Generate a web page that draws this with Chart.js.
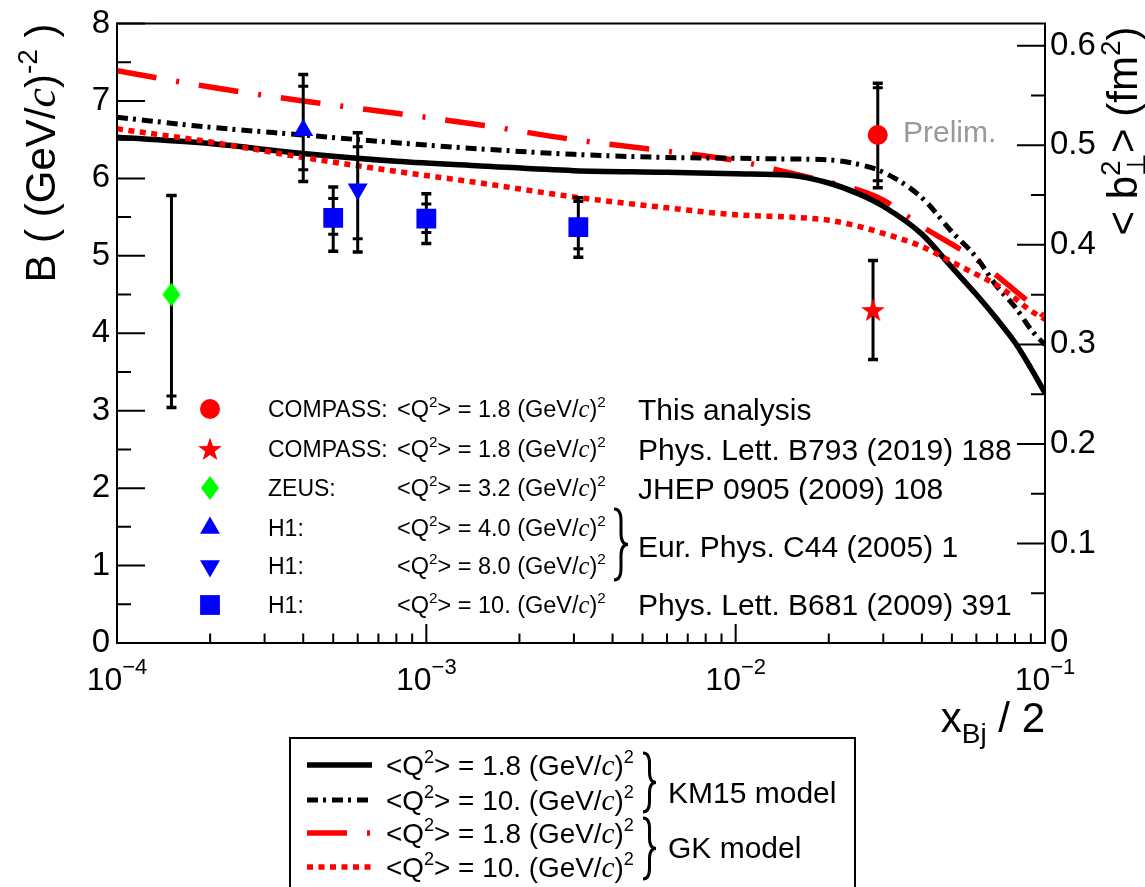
<!DOCTYPE html>
<html>
<head>
<meta charset="utf-8">
<script src="https://cdn.jsdelivr.net/npm/chart.js@4.4.1/dist/chart.umd.min.js"></script>
<style>
  body { margin: 0; background: #fff; }
  #wrap { width: 1145px; height: 887px; }
</style>
</head>
<body>
<div id="wrap"><canvas id="bChart"></canvas></div>
<script>
// model curves: B in (GeV/c)^-2 versus xBj/2
const curveX = [1e-4, 2e-4, 4e-4, 8e-4, 1.5e-3, 3e-3, 6e-3, 1e-2, 1.5e-2, 2e-2, 2.5e-2, 3e-2, 4e-2, 5e-2, 6e-2, 7e-2, 8e-2, 9e-2, 1e-1];
const km15Q18 = [6.53, 6.45, 6.32, 6.22, 6.16, 6.10, 6.08, 6.06, 6.04, 5.94, 5.80, 5.64, 5.28, 4.85, 4.50, 4.18, 3.88, 3.55, 3.23];
const km15Q10 = [6.79, 6.66, 6.56, 6.46, 6.38, 6.31, 6.27, 6.26, 6.25, 6.24, 6.18, 6.08, 5.75, 5.31, 4.98, 4.60, 4.34, 4.05, 3.85];
const gkQ18 = [7.39, 7.18, 7.00, 6.84, 6.69, 6.50, 6.35, 6.23, 6.07, 5.95, 5.85, 5.72, 5.38, 5.15, 4.95, 4.74, 4.55, 4.38, 4.20];
const gkQ10 = [6.64, 6.47, 6.27, 6.09, 5.94, 5.76, 5.62, 5.53, 5.50, 5.46, 5.38, 5.29, 5.12, 4.92, 4.76, 4.62, 4.45, 4.29, 4.18];

// measurements
const compassX = [0.0288], compassB = [6.56], compassStatLo = [5.97], compassStatHi = [7.17], compassTotLo = [5.88], compassTotHi = [7.23];
const plbX = [0.0278], plbB = [4.30], plbTotLo = [3.66], plbTotHi = [4.94];
const zeusX = [1.5e-4], zeusB = [4.50], zeusStatLo = [3.19], zeusStatHi = [5.78], zeusTotLo = [3.04], zeusTotHi = [5.78];
const h1aX = [4e-4], h1aB = [6.62], h1aStatLo = [6.11], h1aStatHi = [7.19], h1aTotLo = [5.96], h1aTotHi = [7.34];
const h1bX = [6e-4], h1bB = [5.86], h1bStatLo = [5.22], h1bStatHi = [6.41], h1bTotLo = [5.05], h1bTotHi = [6.59];
const h1cX = [5e-4, 1e-3, 3.1e-3], h1cB = [5.49, 5.48, 5.37];
const h1cStatLo = [5.28, 5.30, 5.09], h1cStatHi = [5.74, 5.67, 5.70];
const h1cTotLo = [5.06, 5.16, 4.98], h1cTotHi = [5.89, 5.80, 5.75];

// ticks
const yTicks = [0, 1, 2, 3, 4, 5, 6, 7, 8];
const y2Ticks = [0, 0.1, 0.2, 0.3, 0.4, 0.5, 0.6];
const xDecades = [1e-4, 1e-3, 1e-2, 1e-1];
const xDecadeExp = ['\u22124', '\u22123', '\u22122', '\u22121'];
const bToFm2 = 0.0778; // <b^2> = 2 B (hbar c)^2

const SANS = "'Liberation Sans', Arial, sans-serif";
const SERIF = "'Liberation Serif', 'Times New Roman', serif";

function shapeCanvas(w, h, color, draw) {
  const c = document.createElement('canvas');
  c.width = w; c.height = h;
  const g = c.getContext('2d');
  g.fillStyle = color;
  g.beginPath();
  draw(g, w, h);
  g.closePath();
  g.fill();
  return c;
}
const starImg = shapeCanvas(26, 26, '#ff0000', (g, w, h) => {
  for (let i = 0; i < 10; i++) {
    const r = i % 2 ? 5 : 12.5;
    const a = -Math.PI / 2 + i * Math.PI / 5;
    g.lineTo(w / 2 + r * Math.cos(a), h / 2 + 1 + r * Math.sin(a));
  }
});
const diamondImg = shapeCanvas(18, 24, '#00ff00', (g, w, h) => {
  g.moveTo(w / 2, 0); g.lineTo(w, h / 2); g.lineTo(w / 2, h); g.lineTo(0, h / 2);
});

function pts(xs, ys) { return xs.map((v, i) => ({ x: v, y: ys[i] })); }

const datasets = [];
function addSeries(xs, ys, style, color, radius, rotation, statLo, statHi, totLo, totHi) {
  datasets.push({
    type: 'scatter', data: pts(xs, ys), pointStyle: style, pointRadius: radius,
    pointRotation: rotation, backgroundColor: color, borderColor: color, pointBorderWidth: 0, order: 0
  });
  xs.forEach((xv, i) => {
    datasets.push({
      type: 'line', data: [{ x: xv, y: totLo[i] }, { x: xv, y: totHi[i] }],
      borderColor: '#000', borderWidth: 3, pointStyle: 'line', pointRadius: 5,
      pointBorderWidth: 3.5, pointBorderColor: '#000', order: 2
    });
    if (statLo) {
      datasets.push({
        type: 'scatter', data: [{ x: xv, y: statLo[i] }, { x: xv, y: statHi[i] }],
        pointStyle: 'line', pointRadius: 5, pointBorderWidth: 3, pointBorderColor: '#000', order: 1
      });
    }
  });
}

function addCurve(ys, color, width, dash) {
  datasets.push({
    type: 'line', data: pts(curveX, ys), borderColor: color, borderWidth: width, borderDash: dash,
    pointRadius: 0, cubicInterpolationMode: 'monotone', borderCapStyle: 'butt', order: 3
  });
}

const dashKM10 = [11, 5, 3, 6];
const dashGK18 = [40, 20, 3, 20];
const dashGK10 = [6, 5.5];

addCurve(gkQ10, '#ff0000', 5.5, dashGK10);
addCurve(km15Q18, '#000000', 5.5, []);
addCurve(km15Q10, '#000000', 5, dashKM10);
addCurve(gkQ18, '#ff0000', 5.5, dashGK18);

addSeries(compassX, compassB, 'circle', '#ff0000', 10, 0, compassStatLo, compassStatHi, compassTotLo, compassTotHi);
addSeries(plbX, plbB, starImg, '#ff0000', 12, 0, null, null, plbTotLo, plbTotHi);
addSeries(zeusX, zeusB, diamondImg, '#00ff00', 12, 0, zeusStatLo, zeusStatHi, zeusTotLo, zeusTotHi);
addSeries(h1aX, h1aB, 'triangle', '#0000ff', 11.5, 0, h1aStatLo, h1aStatHi, h1aTotLo, h1aTotHi);
addSeries(h1bX, h1bB, 'triangle', '#0000ff', 11.5, 180, h1bStatLo, h1bStatHi, h1bTotLo, h1bTotHi);
addSeries(h1cX, h1cB, 'rect', '#0000ff', 14, 0, h1cStatLo, h1cStatHi, h1cTotLo, h1cTotHi);

// rich text: parts {t, s, dy, it, fam, same}
function drawRich(ctx, x, y, parts, align) {
  let w = 0;
  parts.forEach(p => {
    ctx.font = (p.it ? 'italic ' : '') + p.s + 'px ' + (p.fam || SANS);
    p.w = ctx.measureText(p.t).width;
  });
  const adv = [];
  parts.forEach((p, i) => {
    if (p.same) { const extra = Math.max(0, p.w - parts[i - 1].w); adv.push(extra); w += extra; }
    else { adv.push(p.w); w += p.w; }
  });
  let cx = align === 'right' ? x - w : align === 'center' ? x - w / 2 : x;
  ctx.textAlign = 'left';
  ctx.textBaseline = 'alphabetic';
  parts.forEach((p, i) => {
    ctx.font = (p.it ? 'italic ' : '') + p.s + 'px ' + (p.fam || SANS);
    const px = p.same ? cx - parts[i - 1].w : cx;
    ctx.fillText(p.t, px, y + (p.dy || 0));
    cx += adv[i];
  });
}

function qParts(val, s) {
  return [
    { t: '<Q', s: s },
    { t: '2', s: s * 0.65, dy: -s * 0.42 },
    { t: '> = ' + val + ' (GeV/', s: s },
    { t: 'c', s: s * 1.05, it: true, fam: SERIF },
    { t: ')', s: s },
    { t: '2', s: s * 0.65, dy: -s * 0.42 }
  ];
}

function brace(ctx, x, y0, y1, w) {
  const m = (y0 + y1) / 2, h = w * 0.8;
  ctx.beginPath();
  ctx.moveTo(x, y0);
  ctx.quadraticCurveTo(x + w / 2, y0, x + w / 2, y0 + h);
  ctx.lineTo(x + w / 2, m - h);
  ctx.quadraticCurveTo(x + w / 2, m, x + w, m);
  ctx.quadraticCurveTo(x + w / 2, m, x + w / 2, m + h);
  ctx.lineTo(x + w / 2, y1 - h);
  ctx.quadraticCurveTo(x + w / 2, y1, x, y1);
  ctx.stroke();
}

const overlay = {
  id: 'overlay',
  afterDraw(chart) {
    const { ctx, chartArea: a, scales: { x, y, y2 } } = chart;
    ctx.save();
    ctx.strokeStyle = '#000';
    ctx.fillStyle = '#000';
    ctx.lineWidth = 2;
    ctx.setLineDash([]);
    ctx.strokeRect(a.left, a.top, a.right - a.left, a.bottom - a.top);

    // inside ticks
    ctx.beginPath();
    yTicks.forEach(v => {
      let py = y.getPixelForValue(v);
      ctx.moveTo(a.left, py); ctx.lineTo(a.left + 28, py);
      if (v < 8) { py = y.getPixelForValue(v + 0.5); ctx.moveTo(a.left, py); ctx.lineTo(a.left + 14, py); }
    });
    y2Ticks.forEach(v => {
      let py = y2.getPixelForValue(v);
      ctx.moveTo(a.right, py); ctx.lineTo(a.right - 28, py);
      if (v < 0.6) { py = y2.getPixelForValue(v + 0.05); ctx.moveTo(a.right, py); ctx.lineTo(a.right - 14, py); }
    });
    xDecades.forEach((d, i) => {
      let px = x.getPixelForValue(d);
      ctx.moveTo(px, a.bottom); ctx.lineTo(px, a.bottom - 19);
      if (i < xDecades.length - 1) {
        for (let k = 2; k <= 9; k++) {
          px = x.getPixelForValue(d * k);
          ctx.moveTo(px, a.bottom); ctx.lineTo(px, a.bottom - 9.5);
        }
      }
    });
    ctx.stroke();

    // x tick labels 10^n
    xDecades.forEach((d, i) => {
      drawRich(ctx, x.getPixelForValue(d), a.bottom + 47, [
        { t: '10', s: 32 },
        { t: xDecadeExp[i], s: 22, dy: -16 }
      ], 'center');
    });

    // axis titles
    drawRich(ctx, a.right, a.bottom + 89, [
      { t: 'x', s: 42 },
      { t: 'Bj', s: 28, dy: 11 },
      { t: ' / 2', s: 42 }
    ], 'right');

    ctx.save();
    ctx.translate(55, a.top);
    ctx.rotate(-Math.PI / 2);
    drawRich(ctx, 0, 0, [
      { t: 'B ( (GeV/', s: 42 },
      { t: 'c', s: 44, it: true, fam: SERIF },
      { t: ')', s: 42 },
      { t: '-2', s: 28, dy: -18 },
      { t: ' )', s: 42 }
    ], 'right');
    ctx.restore();

    ctx.save();
    ctx.translate(1137, a.top + 3);
    ctx.rotate(-Math.PI / 2);
    drawRich(ctx, 0, 0, [
      { t: '< b', s: 42 },
      { t: '2', s: 28, dy: -17 },
      { t: '\u22A5', s: 26, dy: 8, same: true },
      { t: '> (fm', s: 42 },
      { t: '2', s: 28, dy: -17 },
      { t: ')', s: 42 }
    ], 'right');
    ctx.restore();

    // Prelim. label
    ctx.fillStyle = '#999999';
    drawRich(ctx, 903, 142, [{ t: 'Prelim.', s: 30 }], 'left');
    ctx.fillStyle = '#000';

    // data legend inside the frame
    const H = Chart.helpers;
    const rows = [409, 449, 488, 528, 566, 605];
    const mk = [
      { pointStyle: 'circle', radius: 10, color: '#ff0000' },
      { pointStyle: starImg, radius: 12, color: '#ff0000' },
      { pointStyle: diamondImg, radius: 12, color: '#00ff00' },
      { pointStyle: 'triangle', radius: 11.5, color: '#0000ff' },
      { pointStyle: 'triangle', radius: 11.5, color: '#0000ff', rotation: 180 },
      { pointStyle: 'rect', radius: 14, color: '#0000ff' }
    ];
    const who = ['COMPASS:', 'COMPASS:', 'ZEUS:', 'H1:', 'H1:', 'H1:'];
    const qv = ['1.8', '1.8', '3.2', '4.0', '8.0', '10.'];
    rows.forEach((ry, i) => {
      ctx.fillStyle = mk[i].color;
      H.drawPoint(ctx, { pointStyle: mk[i].pointStyle, radius: mk[i].radius, rotation: mk[i].rotation || 0, borderWidth: 0 }, 210, ry);
      ctx.fillStyle = '#000';
      drawRich(ctx, 268, ry + 8, [{ t: who[i], s: 23 }], 'left');
      drawRich(ctx, 397, ry + 8, qParts(qv[i], 23.5), 'left');
    });
    const refs = [
      ['This analysis', 409], ['Phys. Lett. B793 (2019) 188', 449], ['JHEP 0905 (2009) 108', 488],
      ['Eur. Phys. C44 (2005) 1', 546], ['Phys. Lett. B681 (2009) 391', 604]
    ];
    refs.forEach(r => drawRich(ctx, 638, r[1] + 11, [{ t: r[0], s: 30 }], 'left'));
    ctx.lineWidth = 3;
    brace(ctx, 614, 509, 580, 14);

    // model legend box below
    ctx.lineWidth = 2;
    ctx.beginPath();
    ctx.moveTo(290, 890); ctx.lineTo(290, 738); ctx.lineTo(855, 738); ctx.lineTo(855, 890);
    ctx.stroke();
    const lg = [
      { c: '#000', w: 5.5, d: [], y: 765, q: '1.8' },
      { c: '#000', w: 5, d: dashKM10, y: 800, q: '10.' },
      { c: '#ff0000', w: 5.5, d: dashGK18, y: 833, q: '1.8' },
      { c: '#ff0000', w: 5.5, d: dashGK10, y: 867, q: '10.' }
    ];
    lg.forEach(l => {
      ctx.strokeStyle = l.c; ctx.lineWidth = l.w; ctx.setLineDash(l.d);
      ctx.beginPath(); ctx.moveTo(307, l.y); ctx.lineTo(372, l.y); ctx.stroke();
      ctx.setLineDash([]);
      drawRich(ctx, 386, l.y + 10, qParts(l.q, 27.9), 'left');
    });
    ctx.strokeStyle = '#000';
    ctx.lineWidth = 3;
    brace(ctx, 643, 753, 812, 13);
    brace(ctx, 643, 818, 879, 13);
    drawRich(ctx, 668, 803, [{ t: 'KM15 model', s: 30 }], 'left');
    drawRich(ctx, 668, 858, [{ t: 'GK model', s: 30 }], 'left');
    ctx.restore();
  }
};

new Chart(document.getElementById('bChart'), {
  type: 'scatter',
  data: { datasets: datasets },
  options: {
    responsive: true,
    maintainAspectRatio: false,
    animation: false,
    events: [],
    layout: { padding: { top: 17, left: 0, right: 0, bottom: 0 } },
    plugins: { legend: { display: false }, tooltip: { enabled: false } },
    scales: {
      x: {
        type: 'logarithmic', min: 1e-4, max: 0.1,
        grid: { display: false }, border: { display: false },
        ticks: { display: false },
        afterFit: s => { s.height = 244; }
      },
      y: {
        position: 'left', min: 0, max: 8,
        grid: { display: false, drawTicks: false }, border: { display: false },
        ticks: { stepSize: 1, padding: 7, color: '#000', font: { family: SANS, size: 33, lineHeight: 1 } },
        afterFit: s => { s.width = 117; }
      },
      y2: {
        position: 'right', min: 0, max: 8 * bToFm2,
        grid: { display: false, drawTicks: false }, border: { display: false },
        afterBuildTicks: s => { s.ticks = y2Ticks.map(v => ({ value: v })); },
        ticks: {
          padding: 5, color: '#000', font: { family: SANS, size: 33, lineHeight: 1 },
          callback: v => (v === 0 ? '0' : v.toFixed(1))
        },
        afterFit: s => { s.width = 100; }
      }
    }
  },
  plugins: [overlay]
});
</script>
</body>
</html>
